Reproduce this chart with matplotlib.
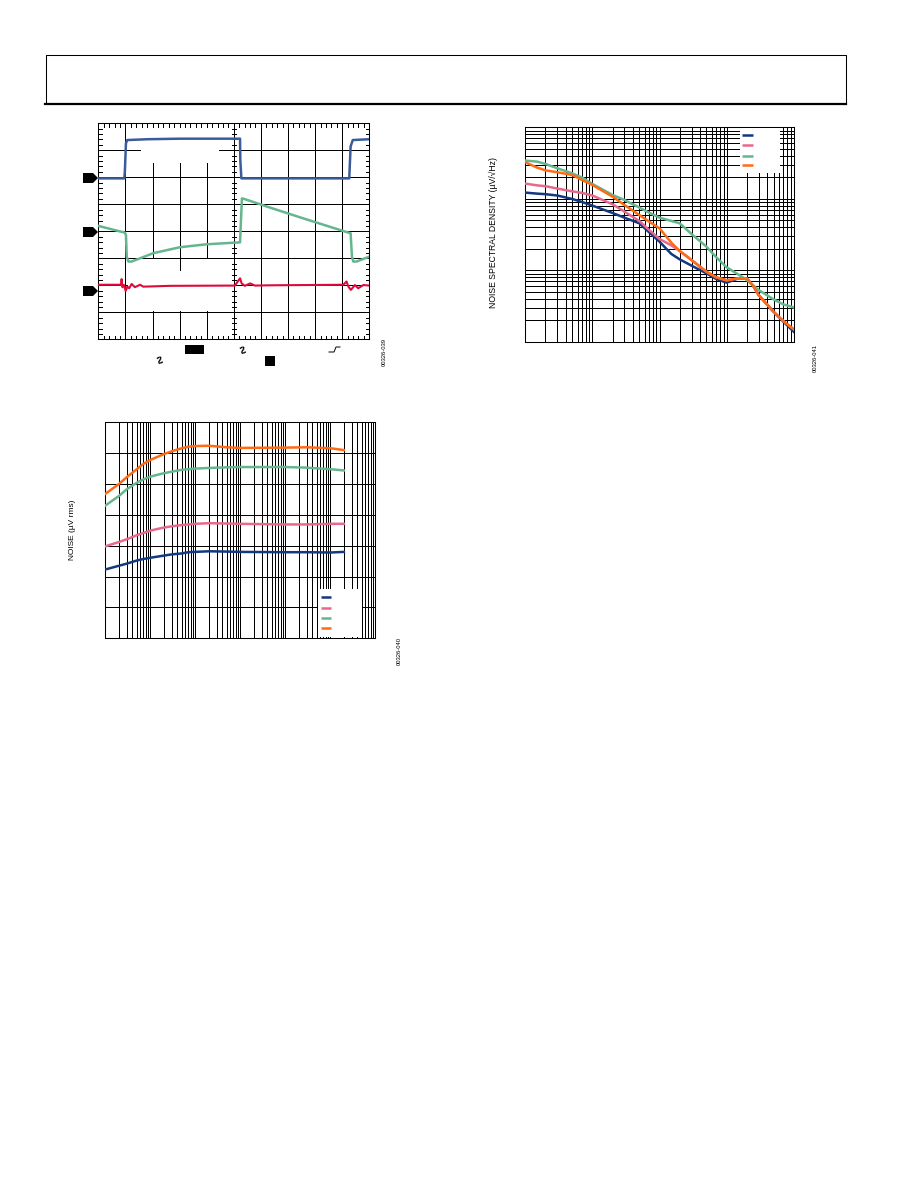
import matplotlib
matplotlib.use('Agg')
import matplotlib.pyplot as plt
from matplotlib.patches import Rectangle, Polygon
from matplotlib.ticker import LogLocator, NullFormatter
import numpy as np

W, H = 918, 1188

NAVY = '#12387F'
PINK = '#E8688C'
GREEN = '#65B68E'
ORANGE = '#FF6A13'
SCOPE_BLUE = '#3B5B9B'
RED = '#DE0B3A'
GRID_LW = 0.55
TRACE_LW = 1.8

# scope traces, in divisions
ch1_t = [0, 0.96, 0.98, 1.02, 1.07, 1.82, 3.01, 5.23, 5.24, 5.28, 9.26, 9.31, 9.39, 10]
ch1_v = [5.96, 5.96, 6.21, 7.26, 7.38, 7.41, 7.43, 7.43, 6.64, 5.96, 5.96, 7.14, 7.38, 7.41]

ch2_t = [0, 0.98, 1.02, 1.05, 1.11, 1.23, 2.03, 3.01, 4.0, 5.04, 5.23, 5.26, 5.30, 5.41, 6.33, 7.56, 9.23, 9.31,
         9.36, 9.41, 9.53, 10]
ch2_v = [4.20, 3.95, 3.86, 3.06, 2.88, 2.88, 3.19, 3.41, 3.52, 3.58, 3.59, 4.30, 5.22, 5.19, 4.88, 4.48, 3.95, 3.93,
         3.06, 2.88, 2.88, 3.06]

ch3_t = [0, 0.84, 0.86, 0.89, 0.95, 1.01, 1.07, 1.14, 1.23, 1.35, 1.54, 1.66, 2.64, 5.04, 5.23, 5.29, 5.41, 5.60,
         5.78, 6.33, 9.04, 9.16, 9.23, 9.32, 9.47, 9.59, 9.78, 10]
ch3_v = [2.02, 2.02, 2.23, 1.93, 2.01, 1.79, 1.95, 1.89, 2.05, 1.93, 2.02, 1.95, 1.98, 1.99, 2.26, 2.07, 1.98, 2.07,
         1.99, 2.00, 2.02, 2.14, 1.95, 1.83, 2.01, 1.89, 2.01, 1.99]

# integrated noise vs bandwidth
bw_freq = [10, 20, 30, 50, 70, 100, 200, 300, 500, 700, 1e3, 2e3, 5e3, 1e4, 1e5, 3e5, 1e6, 2e6]
bw_navy = [22.3, 23.5, 24.2, 25.2, 25.7, 26.1, 26.8, 27.2, 27.5, 27.9, 28.0, 28.2, 28.1, 28.0, 27.9, 27.9, 27.8, 28.0]
bw_pink = [29.8, 31.2, 32.1, 33.4, 34.1, 34.9, 35.9, 36.3, 36.7, 36.9, 37.1, 37.3, 37.2, 37.1, 36.9, 36.9, 37.1, 37.1]
bw_green = [43.0, 46.1, 48.3, 50.4, 51.5, 52.4, 53.5, 54.0, 54.6, 54.8, 55.0, 55.2, 55.4, 55.5, 55.5, 55.3, 54.8, 54.4]
bw_orange = [46.8, 50.0, 52.2, 54.8, 56.5, 57.8, 59.7, 60.6, 61.6, 62.1, 62.3, 62.4, 61.9, 61.7, 61.8, 61.9, 61.6,
             61.0]

# noise spectral density
psd_freq = [10, 15, 20, 30, 50, 70, 100, 200, 300, 500, 700, 1e3, 1.5e3, 2e3, 3e3, 5e3, 7e3, 1e4, 1.5e4, 2e4, 2.5e4,
            3e4, 5e4, 7e4, 1e5]
psd_navy = [1.22, 1.18, 1.16, 1.11, 0.993, 0.902, 0.802, 0.632, 0.544, 0.454, 0.340, 0.251, 0.169, 0.142, 0.116,
            0.0905, 0.0754, 0.0670, 0.0770, 0.0762, 0.0602, 0.0450, 0.0263, 0.0191, 0.0138]
psd_pink = [1.63, 1.54, 1.50, 1.39, 1.27, 1.21, 1.11, 0.837, 0.661, 0.489, 0.366, 0.274, 0.223, 0.186, 0.139,
            0.0955, 0.0796, 0.0723, 0.0770, 0.0770, 0.0602, 0.0450, 0.0263, 0.0195, 0.0149]
psd_green = [3.42, 3.31, 3.07, 2.67, 2.27, 1.98, 1.61, 1.13, 0.962, 0.752, 0.640, 0.544, 0.489, 0.454, 0.321,
             0.214, 0.152, 0.110, 0.0870, 0.0730, 0.0610, 0.0529, 0.0392, 0.0333, 0.0302]
psd_orange = [3.24, 2.73, 2.50, 2.35, 2.15, 1.83, 1.56, 1.07, 0.819, 0.593, 0.479, 0.386, 0.243, 0.186, 0.139,
              0.0955, 0.0796, 0.0723, 0.0770, 0.0770, 0.0602, 0.0450, 0.0263, 0.0195, 0.0149]

plt.rcParams['font.family'] = ['Liberation Sans', 'DejaVu Sans']

fig = plt.figure(figsize=(W / 100, H / 100), dpi=100)


def px_axes(left, top, right, bottom):
    return fig.add_axes([left / W, 1 - bottom / H, (right - left) / W, (bottom - top) / H])


def clean_axes(ax):
    ax.tick_params(which='both', length=0, labelbottom=False, labelleft=False)
    ax.xaxis.set_minor_formatter(NullFormatter())
    ax.yaxis.set_minor_formatter(NullFormatter())
    ax.set_axisbelow(True)
    for s in ax.spines.values():
        s.set_linewidth(0.75)


def log_grid(axis, numticks=20):
    axis.set_major_locator(LogLocator(base=10, numticks=numticks))
    axis.set_minor_locator(LogLocator(base=10, subs=np.arange(2, 10), numticks=numticks))


# scope shot
ax1 = px_axes(98.3, 123.3, 369.3, 339.3)
ax1.set_xlim(0, 10)
ax1.set_ylim(0, 8)
ax1.set_xticks(np.arange(0, 11))
ax1.set_yticks(np.arange(0, 9))
clean_axes(ax1)
ax1.grid(True, color='black', lw=GRID_LW, antialiased=False)

# blanked areas where the scope readouts were
ax1.add_patch(Rectangle((1.58, 6.52), 2.87, 1.48, fc='white', ec='none', zorder=1))
ax1.add_patch(Rectangle((1.1, 1.03), 3.8, 1.94, fc='white', ec='none', zorder=1))
ax1.vlines(3, 2.57, 2.97, color='black', lw=GRID_LW, zorder=1.5, antialiased=False)

x_minor = np.arange(0, 10.01, 0.2)
y_minor = np.arange(0, 8.01, 0.2)
tick_kw = dict(color='black', lw=GRID_LW, zorder=2, antialiased=False)
ax1.vlines(x_minor, 7.87, 8, **tick_kw)
ax1.vlines(x_minor, 0, 0.13, **tick_kw)
ax1.hlines(y_minor, 0, 0.13, **tick_kw)
ax1.hlines(y_minor, 9.87, 10, **tick_kw)
ax1.hlines(y_minor, 4.92, 5.08, **tick_kw)

ax1.plot(ch1_t, ch1_v, color=SCOPE_BLUE, lw=TRACE_LW, zorder=3)
ax1.plot(ch2_t, ch2_v, color=GREEN, lw=TRACE_LW, zorder=3)
ax1.plot(ch3_t, ch3_v, color=RED, lw=1.5, zorder=3)

# rms noise vs bandwidth
ax2 = px_axes(105.3, 422.3, 375.3, 638.3)
ax2.set_xscale('log')
ax2.set_xlim(10, 1e7)
ax2.set_ylim(0, 70)
ax2.set_yticks(np.arange(0, 71, 10))
log_grid(ax2.xaxis)
clean_axes(ax2)
ax2.grid(True, which='both', axis='x', color='black', lw=GRID_LW, antialiased=False)
ax2.grid(True, which='major', axis='y', color='black', lw=GRID_LW, antialiased=False)
ax2.plot(bw_freq, bw_navy, color=NAVY, lw=TRACE_LW, zorder=3)
ax2.plot(bw_freq, bw_pink, color=PINK, lw=TRACE_LW, zorder=3)
ax2.plot(bw_freq, bw_green, color=GREEN, lw=TRACE_LW, zorder=3)
ax2.plot(bw_freq, bw_orange, color=ORANGE, lw=TRACE_LW, zorder=3)

# noise spectral density
ax3 = px_axes(525.3, 127.3, 793.7, 341.7)
ax3.set_xscale('log')
ax3.set_yscale('log')
ax3.set_xlim(10, 1e5)
ax3.set_ylim(0.01, 10)
log_grid(ax3.xaxis)
log_grid(ax3.yaxis)
clean_axes(ax3)
ax3.grid(True, which='both', color='black', lw=GRID_LW, antialiased=False)
ax3.plot(psd_freq, psd_navy, color=NAVY, lw=TRACE_LW, zorder=3)
ax3.plot(psd_freq, psd_pink, color=PINK, lw=TRACE_LW, zorder=3)
ax3.plot(psd_freq, psd_green, color=GREEN, lw=TRACE_LW, zorder=3)
ax3.plot(psd_freq, psd_orange, color=ORANGE, lw=TRACE_LW, zorder=3)

# page furniture, in pixels
page = fig.add_axes([0, 0, 1, 1], zorder=5)
page.set_xlim(0, W)
page.set_ylim(H, 0)
page.axis('off')
page.patch.set_alpha(0)

page.plot([45.5, 45.5, 845.5, 845.5], [103.5, 54.5, 54.5, 103.5], color='black', lw=0.75)
page.plot([45, 846], [103.8, 103.8], color='black', lw=1.6)

# ground markers on the scope shot
for y in [178, 232, 291]:
    page.add_patch(Polygon([(83, y - 5), (93, y - 5), (98, y), (93, y + 5), (83, y + 5)], fc='black', ec='none'))

page.add_patch(Rectangle((185, 345), 19, 9, fc='black', ec='none'))
page.add_patch(Rectangle((265, 356), 10, 10, fc='black', ec='none'))
page.text(158, 361, '∿', fontsize=9, rotation=-45, ha='center', va='center', family='DejaVu Sans', weight='bold')
page.text(241, 351, '∿', fontsize=9, rotation=-45, ha='center', va='center', family='DejaVu Sans', weight='bold')
page.plot([329, 333, 334, 336, 340], [352, 352, 352, 347, 347], color='black', lw=0.7)

# blanked legends
page.add_patch(Rectangle((318.3, 589), 43.4, 47.7, fc='white', ec='none'))
page.add_patch(Rectangle((740, 128), 40, 44.7, fc='white', ec='none'))
for y, c in zip([597, 607.7, 617.7, 628], [NAVY, PINK, GREEN, ORANGE]):
    page.plot([321, 331], [y, y], color=c, lw=TRACE_LW, solid_capstyle='butt')
for y, c in zip([134.7, 144.7, 155.7, 165], [NAVY, PINK, GREEN, ORANGE]):
    page.plot([742.3, 753], [y, y], color=c, lw=TRACE_LW, solid_capstyle='butt')

page.text(73, 530, 'NOISE (µV rms)', fontsize=6, rotation=90, ha='center', va='center')
page.text(493, 233, 'NOISE SPECTRAL DENSITY (µV/√Hz)', fontsize=6.2, rotation=90, ha='center', va='center')

page.text(384, 352, '00326-039', fontsize=4.2, rotation=90, ha='center', va='center')
page.text(399, 651, '00326-040', fontsize=4.2, rotation=90, ha='center', va='center')
page.text(815, 357.5, '00326-041', fontsize=4.2, rotation=90, ha='center', va='center')

page.set_xlim(0, W)
page.set_ylim(H, 0)

fig.savefig('out.png', dpi=100)
